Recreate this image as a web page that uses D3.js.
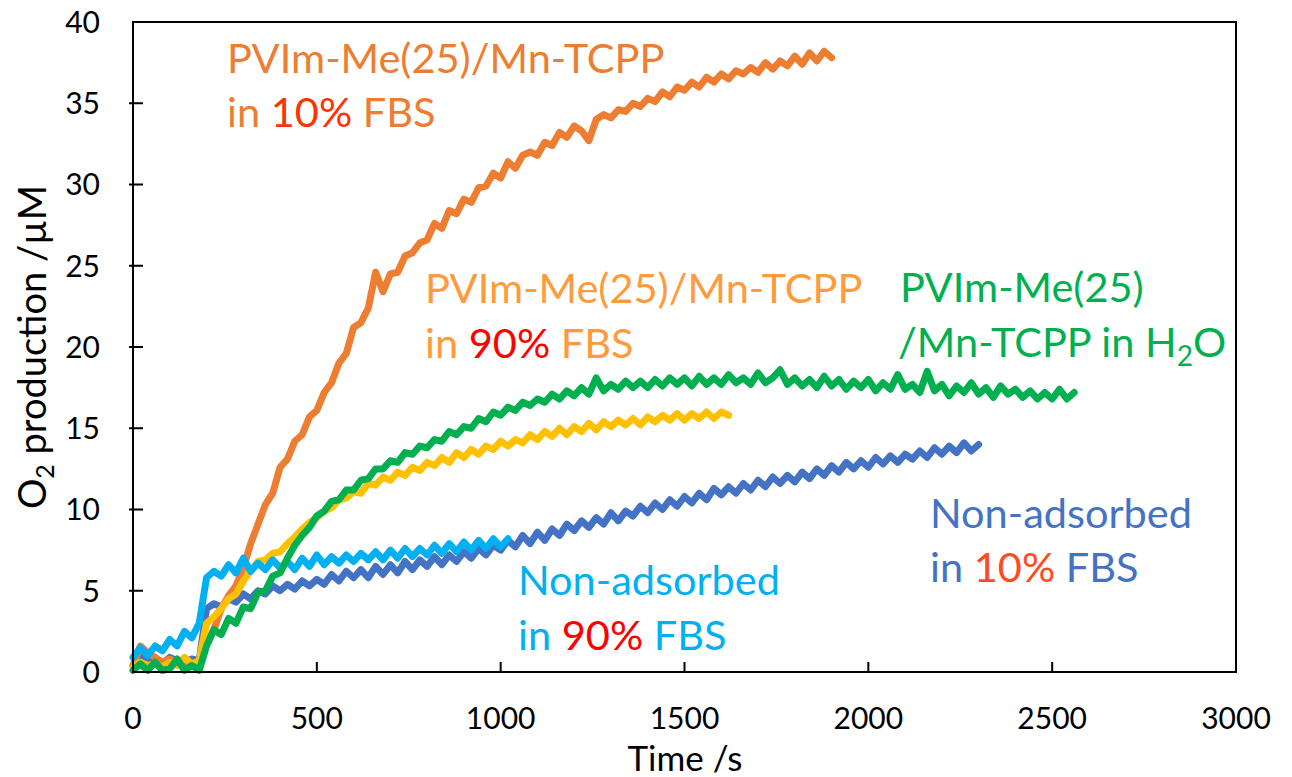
<!DOCTYPE html>
<html>

<head>
    <meta charset="utf-8">
    <style>
        body {
            margin: 0;
            background: white;
        }

        svg {
            font-family: Lato, 'Open Sans', sans-serif;
        }

        .tick-label {
            font-size: 30px;
            fill: #000;
        }

        .axis-title {
            font-size: 35px;
            fill: #000;
        }

        .note {
            font-size: 41.5px;
        }
    </style>
</head>

<body>
    <svg width="1292" height="777"></svg>
</body>

<script src="https://d3js.org/d3.v7.min.js"></script>

<script>
    // sampling of every run: one reading each 20 s, starting at 0 s
    let step = 20;

    // PVIm-Me(25)/Mn-TCPP in 10% FBS
    let orangeVals = [0.4, 1.6, 1.2, 0.9, 0.6, 0.8, 0.5, 0.7, 0.4, 0.6,
        1.8, 2.6, 3.9, 4.7, 5.3, 6.4, 7.9, 9.1, 10.3, 11.0,
        12.6, 13.1, 14.2, 14.6, 15.7, 16.1, 17.2, 17.8, 19.0, 19.6,
        21.2, 21.5, 22.4, 24.6, 23.4, 24.5, 24.6, 25.6, 25.8, 26.4,
        26.6, 27.6, 27.3, 28.4, 28.2, 29.1, 28.9, 29.8, 29.9, 30.7,
        30.4, 31.4, 31.0, 31.8, 32.0, 31.8, 32.6, 32.4, 33.2, 32.9,
        33.6, 33.3, 32.7, 34.0, 34.3, 34.1, 34.6, 34.5, 35.0, 34.8,
        35.3, 35.1, 35.7, 35.4, 36.0, 35.8, 36.3, 36.0, 36.6, 36.3,
        36.8, 36.5, 37.0, 36.8, 37.2, 36.9, 37.5, 37.1, 37.6, 37.3,
        37.9, 37.4, 38.1, 37.6, 38.2, 37.8];

    // PVIm-Me(25)/Mn-TCPP in 90% FBS
    let yellowVals = [0.3, 0.6, 0.4, 0.5, 0.3, 0.6, 0.4, 0.9, 0.5, 0.7,
        3.0, 3.4, 3.9, 4.5, 4.8, 5.6, 6.2, 6.8, 6.9, 7.3,
        7.4, 7.9, 8.3, 8.8, 9.2, 9.5, 9.9, 10.1, 10.6, 10.7,
        11.1, 11.0, 11.6, 11.5, 12.0, 11.8, 12.3, 12.1, 12.6, 12.4,
        12.9, 12.7, 13.2, 12.9, 13.5, 13.2, 13.7, 13.4, 13.9, 13.7,
        14.2, 13.9, 14.3, 14.1, 14.6, 14.3, 14.8, 14.5, 15.0, 14.6,
        15.1, 14.8, 15.3, 14.9, 15.4, 15.1, 15.5, 15.2, 15.6, 15.2,
        15.7, 15.4, 15.8, 15.5, 15.9, 15.5, 15.9, 15.6, 16.0, 15.6,
        16.0, 15.8];

    // PVIm-Me(25)/Mn-TCPP in H2O
    let greenVals = [0.1, 0.5, 0.1, 0.6, 0.1, 0.2, 0.8, 0.1, 0.4, 0.1,
        1.6, 2.6, 2.3, 3.3, 3.0, 4.0, 3.9, 4.9, 5.0, 5.9,
        6.1, 7.0, 7.8, 8.4, 8.9, 9.6, 9.9, 10.5, 10.6, 11.2,
        11.2, 11.8, 11.9, 12.5, 12.5, 13.0, 12.9, 13.5, 13.4, 13.9,
        13.8, 14.3, 14.2, 14.8, 14.6, 15.1, 15.0, 15.6, 15.4, 16.0,
        15.8, 16.3, 16.1, 16.6, 16.4, 16.8, 16.6, 17.1, 16.8, 17.3,
        17.0, 17.5, 17.1, 18.1, 17.3, 17.7, 17.4, 17.9, 17.5, 17.9,
        17.5, 18.0, 17.6, 18.1, 17.7, 18.1, 17.6, 18.2, 17.7, 18.1,
        17.7, 18.3, 17.8, 18.1, 17.7, 18.4, 17.8, 18.1, 18.6, 17.7,
        18.1, 17.6, 18.0, 17.5, 18.2, 17.6, 18.0, 17.4, 17.9, 17.5,
        18.0, 17.3, 17.8, 17.4, 18.3, 17.4, 17.7, 17.2, 18.5, 17.3,
        17.7, 17.0, 17.6, 17.2, 17.8, 17.1, 17.5, 16.9, 17.6, 17.1,
        17.4, 16.9, 17.3, 16.8, 17.2, 16.8, 17.4, 16.8, 17.2];

    // Non-adsorbed in 10% FBS
    let blueVals = [0.4, 0.9, 0.6, 0.8, 0.5, 0.9, 0.7, 0.6, 0.8, 0.7,
        3.9, 4.2, 4.0, 4.5, 4.3, 4.8, 4.5, 5.0, 4.8, 5.3,
        5.0, 5.4, 5.1, 5.6, 5.3, 5.7, 5.4, 6.0, 5.6, 6.2,
        5.8, 6.3, 5.8, 6.5, 6.0, 6.6, 6.1, 6.8, 6.3, 6.9,
        6.5, 7.1, 6.6, 7.2, 6.8, 7.4, 7.0, 7.6, 7.2, 7.8,
        7.5, 8.1, 7.7, 8.4, 7.9, 8.6, 8.1, 8.8, 8.4, 9.1,
        8.7, 9.3, 8.9, 9.5, 9.1, 9.8, 9.3, 9.9, 9.6, 10.2,
        9.8, 10.4, 10.0, 10.6, 10.2, 10.8, 10.4, 11.0, 10.6, 11.3,
        10.9, 11.4, 11.0, 11.6, 11.2, 11.8, 11.4, 12.0, 11.6, 12.1,
        11.7, 12.3, 11.9, 12.5, 12.1, 12.7, 12.3, 12.9, 12.5, 13.0,
        12.6, 13.2, 12.8, 13.3, 12.9, 13.4, 13.1, 13.6, 13.2, 13.8,
        13.4, 13.9, 13.5, 14.1, 13.6, 14.0];

    // Non-adsorbed in 90% FBS
    let skyVals = [0.9, 1.5, 1.0, 1.6, 1.3, 2.0, 1.6, 2.5, 2.1, 3.0,
        5.8, 6.2, 5.9, 6.6, 6.1, 7.0, 6.2, 6.7, 6.3, 6.9,
        6.4, 6.8, 6.3, 7.0, 6.5, 7.2, 6.6, 7.1, 6.7, 7.2,
        6.8, 7.3, 6.9, 7.4, 6.9, 7.5, 7.0, 7.6, 7.1, 7.6,
        7.2, 7.8, 7.3, 7.9, 7.4, 8.0, 7.5, 8.1, 7.6, 8.2,
        7.7, 8.2];

    let xTicks = [0, 500, 1000, 1500, 2000, 2500, 3000];
    let yTicks = [0, 5, 10, 15, 20, 25, 30, 35, 40];

    let svg = d3.select("svg");

    let plotLeft = 133, plotRight = 1236, plotTop = 22, plotBottom = 672;

    let x = d3.scaleLinear().domain([0, 3000]).range([plotLeft, plotRight]);
    let y = d3.scaleLinear().domain([0, 40]).range([plotBottom, plotTop]);

    // drawing order: later ones sit on top
    let runs = [
        { vals: blueVals, color: "#4472C4" },
        { vals: orangeVals, color: "#ED7D31" },
        { vals: yellowVals, color: "#FFC000" },
        { vals: skyVals, color: "#00B0F0" },
        { vals: greenVals, color: "#00B050" }
    ];

    let line = d3.line()
        .x((d, i) => x(i * step))
        .y(d => y(d));

    svg.selectAll(".run")
        .data(runs)
        .join("path")
        .attr("class", "run")
        .attr("d", d => line(d.vals))
        .style("fill", "none")
        .style("stroke", d => d.color)
        .style("stroke-width", 7)
        .style("stroke-linejoin", "round")
        .style("stroke-linecap", "round");

    // frame
    svg.append("rect")
        .attr("x", plotLeft)
        .attr("y", plotTop)
        .attr("width", plotRight - plotLeft)
        .attr("height", plotBottom - plotTop)
        .style("fill", "none")
        .style("stroke", "#000")
        .style("stroke-width", 2);

    // ticks
    svg.selectAll(".xtick")
        .data(xTicks.slice(1, -1))
        .join("line")
        .attr("x1", d => x(d))
        .attr("x2", d => x(d))
        .attr("y1", plotBottom)
        .attr("y2", plotBottom - 10)
        .style("stroke", "#000")
        .style("stroke-width", 2);

    svg.selectAll(".ytick")
        .data(yTicks.slice(1, -1))
        .join("line")
        .attr("x1", plotLeft - 4)
        .attr("x2", plotLeft + 10)
        .attr("y1", d => y(d))
        .attr("y2", d => y(d))
        .style("stroke", "#000")
        .style("stroke-width", 2);

    svg.selectAll(".xlab")
        .data(xTicks)
        .join("text")
        .attr("class", "tick-label")
        .attr("x", d => x(d))
        .attr("y", 729)
        .attr("text-anchor", "middle")
        .text(d => d);

    svg.selectAll(".ylab")
        .data(yTicks)
        .join("text")
        .attr("class", "tick-label")
        .attr("x", 100)
        .attr("y", d => y(d))
        .attr("dy", "0.36em")
        .attr("text-anchor", "end")
        .text(d => d);

    // axis titles
    svg.append("text")
        .attr("class", "axis-title")
        .attr("x", 685)
        .attr("y", 771)
        .attr("text-anchor", "middle")
        .text("Time /s");

    let yt = svg.append("text")
        .attr("class", "axis-title")
        .style("font-size", "38px")
        .attr("transform", "translate(46,347) rotate(-90)")
        .attr("text-anchor", "middle");
    yt.append("tspan").text("O");
    yt.append("tspan").attr("dy", 8).style("font-size", "25px").text("2");
    yt.append("tspan").attr("dy", -8).text(" production /µM");

    // annotations; each line is a list of [text, colour] pieces
    function note(px, py, pieces) {
        let t = svg.append("text")
            .attr("class", "note")
            .attr("x", px)
            .attr("y", py);
        pieces.forEach(p => {
            t.append("tspan").style("fill", p[1]).text(p[0]);
        });
        return t;
    }

    note(227, 73, [["PVIm-Me(25)/Mn-TCPP", "#ED7D31"]]);
    note(227, 127, [["in ", "#ED7D31"], ["10%", "#FF3300"], [" FBS", "#ED7D31"]]);

    note(425, 303, [["PVIm-Me(25)/Mn-TCPP", "#FF9B3B"]]);
    note(425, 358, [["in ", "#FF9B3B"], ["90%", "#FF0000"], [" FBS", "#FF9B3B"]]);

    note(900, 302, [["PVIm-Me(25)", "#00B050"]]);
    let h2o = note(898, 357, [["/Mn-TCPP in H", "#00B050"]]);
    h2o.append("tspan").attr("dy", 9).style("font-size", "28px").style("fill", "#00B050").text("2");
    h2o.append("tspan").attr("dy", -9).style("fill", "#00B050").text("O");

    note(930, 528, [["Non-adsorbed", "#4472C4"]]);
    note(930, 582, [["in ", "#4472C4"], ["10%", "#FF4B1F"], [" FBS", "#4472C4"]]);

    note(518, 595, [["Non-adsorbed", "#00B0F0"]]);
    note(518, 650, [["in ", "#00B0F0"], ["90%", "#FF0000"], [" FBS", "#00B0F0"]]);
</script>

</html>
